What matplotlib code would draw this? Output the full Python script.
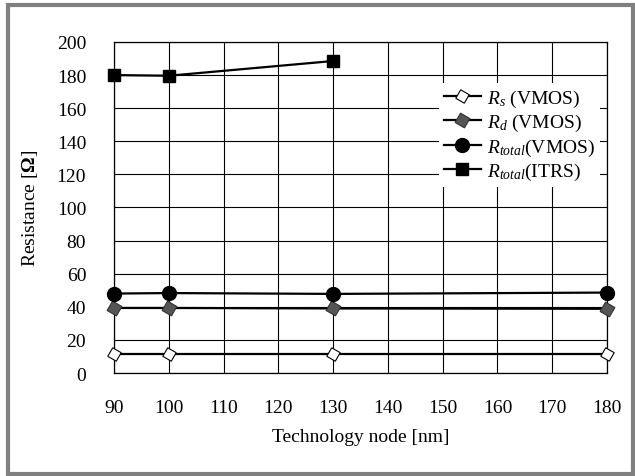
import matplotlib

matplotlib.use("Agg")
import matplotlib.pyplot as plt
from matplotlib.patches import Rectangle

plt.rcParams["font.family"] = ["Liberation Serif", "DejaVu Serif"]
plt.rcParams["mathtext.fontset"] = "custom"
plt.rcParams["mathtext.rm"] = "Liberation Serif"
plt.rcParams["mathtext.it"] = "Liberation Serif:italic"
plt.rcParams["mathtext.bf"] = "Liberation Serif:bold"

# data
nodes = [90, 100, 130, 180]
r_s_vmos = [11.5, 11.5, 11.5, 11.5]
r_d_vmos = [39.3, 39.3, 39.0, 38.8]
r_total_vmos = [48.0, 48.3, 47.8, 48.6]
itrs_nodes = [90, 100, 130]
r_total_itrs = [180.0, 179.6, 188.5]

x_ticks = list(range(90, 181, 10))
y_ticks = list(range(0, 201, 20))

fig = plt.figure(figsize=(6.35, 4.77), dpi=100)
ax = fig.add_axes([0.1795, 0.2159, 0.7764, 0.6940])

common = dict(color="black", lw=1.6, zorder=3, clip_on=False)
ax.plot(nodes, r_s_vmos, marker=(4, 0, 15), ms=10, mfc="white", mec="black",
        mew=0.8, label=r"$R_s$ (VMOS)", **common)
ax.plot(nodes, r_d_vmos, marker=(4, 0, 15), ms=11, mfc="#555555",
        mec="#333333", mew=0.8, label=r"$R_d$ (VMOS)", **common)
ax.plot(nodes, r_total_vmos, marker="o", ms=10, mfc="black", mec="black",
        label=r"$R_{total}$(VMOS)", **common)
ax.plot(itrs_nodes, r_total_itrs, marker="s", ms=9, mfc="black", mec="black",
        label=r"$R_{total}$(ITRS)", **common)

ax.set_xlim(90, 180)
ax.set_ylim(0, 200)
ax.set_xticks(x_ticks)
ax.set_yticks(y_ticks)
ax.tick_params(length=0, labelsize=14)
ax.tick_params(axis="x", pad=19)
ax.tick_params(axis="y", pad=20)
ax.grid(True, color="black", lw=0.8)
for s in ax.spines.values():
    s.set_linewidth(0.9)

ax.set_xlabel("Technology node [nm]", fontsize=14, labelpad=8)
ax.set_ylabel(r"Resistance [$\mathbf{\Omega}$]", fontsize=14, labelpad=12)

leg = ax.legend(loc="upper right", bbox_to_anchor=(0.985, 0.877), fontsize=14,
                frameon=True, fancybox=False, framealpha=1, edgecolor="none",
                handlelength=1.9, handletextpad=0.3, labelspacing=0.17,
                borderpad=0.25, borderaxespad=0)
leg.set_zorder(4)

# gray outer frame
fig.patches.append(Rectangle((8 / 635, 2 / 477), 625 / 635, 469 / 477,
                             transform=fig.transFigure, fill=False,
                             edgecolor="#808080", lw=3, zorder=10))

fig.savefig("out.png", dpi=100)
